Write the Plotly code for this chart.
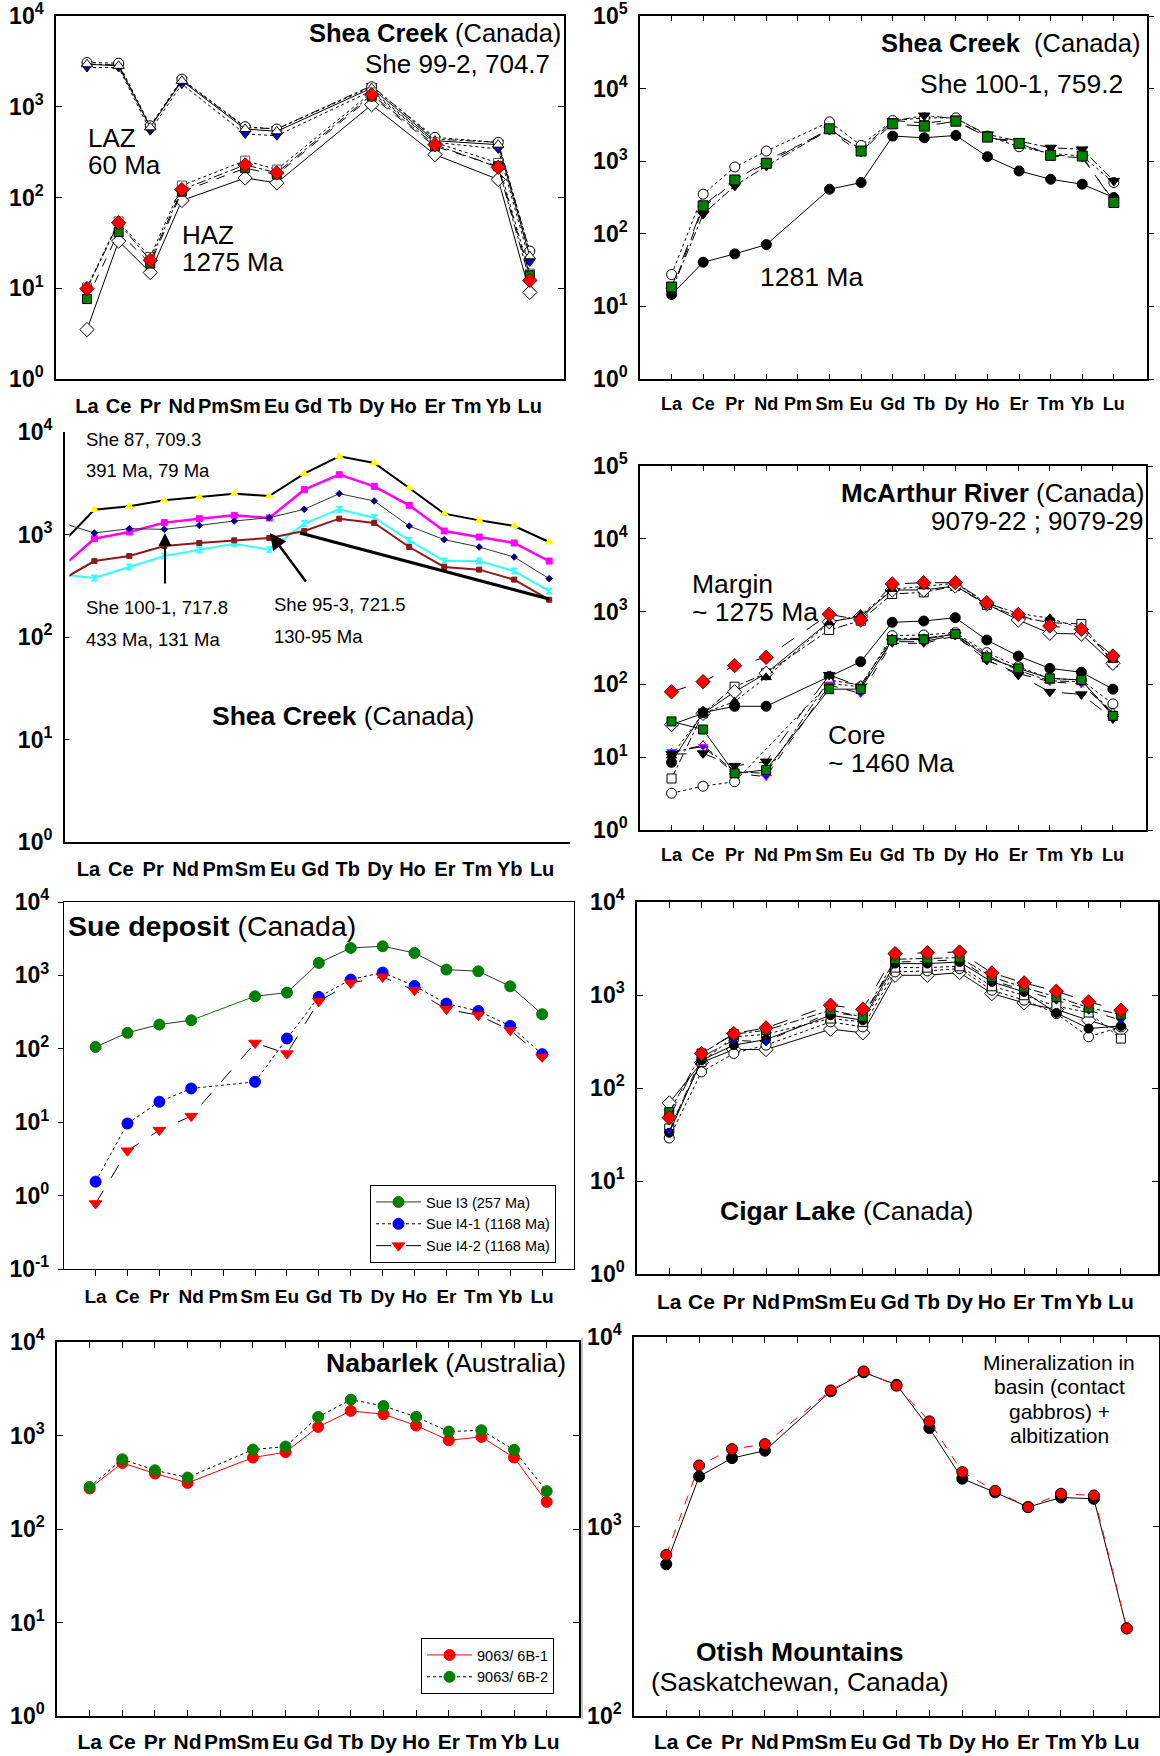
import plotly.graph_objects as go

W, H = 1160, 1756
FONT = "Liberation Sans, Arial, sans-serif"
N = None

REE = ["La", "Ce", "Pr", "Nd", "Pm", "Sm", "Eu", "Gd", "Tb", "Dy", "Ho", "Er", "Tm", "Yb", "Lu"]
X = list(range(len(REE)))

# ---------------- Panel 1: Shea Creek She 99-2 ----------------
laz_tri_open = [2942, 2823, 593, 1931, N, 569, 536, N, N, 1603, N, 423, N, 382, 22.5]
laz_circ_open = [3070, 3020, 618, 2014, N, 603, 569, N, N, 1660, N, 460, N, 405, 25.7]
laz_tri_down = [2942, 2890, 603, 1980, N, 593, 569, N, N, 1702, N, 441, N, 405, 25]
laz_blue = [2706, 2706, 545, 1775, N, 501, 480, N, N, 1500, N, 405, N, 343, 19.5]
haz_dia_open = [3.5, 33.1, 14.9, 92.7, N, 164, 145, N, N, 1052, N, 297, N, 158, 9.0]
haz_sq_open = [10.2, 54.5, 22.1, 135.5, N, 255, 203, N, N, 1438, N, 405, N, 240, 14.5]
haz_green = [7.6, 41.6, 18.7, 116, N, 210, 179, N, N, 1300, N, 366, N, 221, 13.9]
haz_red = [9.9, 52.7, 20.3, 122, N, 229, 187, N, N, 1355, N, 382, N, 215, 12.2]

# ---------------- Panel 2: Shea Creek She 100-1 ----------------
s100_black = [14.6, 40.6, 52.9, 71, N, 411, 508, 2217, 2103, 2264, 1154, 734, 564, 482, 316]
s100_open = [27.5, 351, 832, 1380, N, 3483, 1650, 3633, 3950, 3950, 2217, 1582, 1282, 1178, 508]
s100_tri = [16.6, 187, 457, 859, N, 2735, 1455, 3557, 4254, 3870, 2334, 1892, 1534, 1455, 535]
s100_blue = [16.6, 230, 535, 1028, N, 2596, 1309, 3633, 3375, 3674, 2103, 1892, 1178, 1117, 284]
s100_green = [18.5, 243, 552, 935, N, 2792, 1380, 3272, 3041, 3557, 2148, 1758, 1203, 1178, 270]

# ---------------- Panel 3: Shea Creek inset (own sample positions) ----------------
inset_pos = list(range(15))
she87_a = [773, 1746, 1883, 2154, 2323, 2500, 2375, 3918, 5790, 4985, 2843, 1597, 1374, 1210, 845]
she87_b = [457, 910, 1057, 1306, 1427, 1538, 1449, 2737, 3834, 2950, 1927, 1082, 945, 826, 551]
she100_a = [1324, 1035, 1140, 1123, 1227, 1354, 1459, 1761, 2502, 2123, 1211, 891, 755, 603, 371]
she95_a = [409, 376, 482, 617, 711, 814, 711, 1276, 1761, 1459, 877, 551, 551, 440, 281]
she95_b = [349, 551, 617, 773, 826, 877, 925, 1082, 1427, 1294, 755, 482, 454, 363, 231]

# ---------------- Panel 4: McArthur River ----------------
mc_sq_open = [5.1, 40, 93, 142, N, 559, 750, 1745, 1841, 2249, 1232, 851, 705, 676, 201]
mc_dia_open = [28, 40, 79, 142, N, 727, 851, 1981, 1981, 2249, 1271, 767, 503, 492, 195]
mc_tri_black = [10.5, 40, 58, 125, N, 705, 898, 2024, 2202, 2445, 1299, 946, 809, 589, 216]
mc_red = [79, 109, 181, 235, N, 917, 767, 2393, 2495, 2495, 1327, 917, 634, 570, 246]
mc_black = [8.5, 41, 50, 50, N, 128, 205, 712, 743, 825, 407, 245, 166, 147, 86]
mc_circ_open = [3.2, 4.0, 4.6, N, N, 103, 93, 467, 477, 514, 273, 175, 121, 115, 54]
mc_tri_down = [11, 11.3, 7.6, 8.7, N, 135, 93, 386, 386, 477, 216, 135, 79, 73, 34]
mc_tri_open = [11.5, 14.7, 6.3, 6.0, N, 115, 98, 429, 429, 492, 254, 155, 112, 109, 41]
mc_blue = [11.9, 14, 6, 5.4, N, 98, 75, 366, 366, 462, 216, 141, 109, 101, 40]
mc_green = [31, 24, 6.0, 6.7, N, 86, 86, 407, 416, 492, 235, 166, 121, 115, 37]

# ---------------- Panel 5: Sue deposit ----------------
sue_i3 = [106, 165, 214, 245, N, 520, 583, 1479, 2367, 2493, 2024, 1200, 1138, 711, 296]
sue_i4_1 = [1.55, 9.6, 19.0, 28.8, N, 35.5, 138, 509, 877, 1092, 719, 413, 328, 205, 84.6]
sue_i4_2 = [0.78, 4.08, 7.8, 12.1, N, 120, 86, 445, 789, 953, 628, 346, 287, 179, 77.6]

# ---------------- Panel 6: Cigar Lake ----------------
cig_dia_open = [69, 188, 259, 259, N, 429, 392, 1630, 1630, 1741, 1036, 822, 697, 536, 418]
cig_circ_open = [29, 149, 235, 289, N, 514, 454, 1770, 1815, 1923, 1125, 879, 631, 355, 454]
cig_sq_open = [36.7, 191, 354, 379, N, 558, 514, 1971, 1971, 2036, 1242, 994, 757, 648, 340]
cig_black = [33, 199, 289, 332, N, 606, 536, 2176, 2176, 2265, 1383, 1080, 642, 436, 465]
cig_blue = [34, 216, 326, 313, N, 658, 582, 2265, 2305, 2400, 1439, 1125, 879, 686, 536]
cig_green = [55, 235, 379, 418, N, 686, 582, 2422, 2460, 2523, 1564, 1202, 954, 732, 616]
cig_red = [48, 235, 385, 443, N, 776, 703, 2786, 2856, 2902, 1727, 1349, 1097, 843, 686]

# ---------------- Panel 7: Nabarlek ----------------
nab_6b1 = [271, 509, 392, 311, N, 581, 663, 1236, 1833, 1688, 1277, 889, 966, 581, 195]
nab_6b2 = [282, 557, 425, 355, N, 707, 762, 1580, 2420, 2070, 1580, 1102, 1137, 702, 254]

# ---------------- Panel 8: Otish Mountains ----------------
otish_a = [632, 1837, 2296, 2512, N, 5166, 6506, 5598, 3304, 1787, 1514, 1266, 1423, 1400, 290]
otish_b = [708, 2100, 2561, 2721, N, 5226, 6585, 5534, 3589, 1937, 1543, 1266, 1489, 1459, 290]


def fx(p):
    return p / W


def fy(p):
    return 1 - p / H


traces = []


def series(ax, y, symbol, fill, dash="solid", size=10, lw=1.0, lcolor="black",
           mline="black", connect=True, x=None, name="", legend=None, mlw=1):
    traces.append(go.Scatter(
        x=x if x is not None else X, y=y, mode="lines+markers",
        xaxis="x" + ax, yaxis="y" + ax,
        line=dict(color=lcolor, width=lw, dash=dash),
        marker=dict(symbol=symbol, size=size, color=fill, line=dict(color=mline, width=mlw)),
        connectgaps=connect, name=name, showlegend=legend is not None,
        legend=legend if legend else "legend", hoverinfo="skip"))


def gap_segment(ax, y, i0, i1, color, dash="solid", lw=1.0):
    traces.append(go.Scatter(
        x=[X[i0], X[i1]], y=[y[i0], y[i1]], mode="lines", xaxis="x" + ax, yaxis="y" + ax,
        line=dict(color=color, width=lw, dash=dash), showlegend=False, hoverinfo="skip"))


# Panel 1
series("", laz_blue, "triangle-down", "#0000ff", "dot", size=9)
series("", laz_tri_down, "triangle-down", "black", "dashdot", size=9)
series("", laz_circ_open, "circle", "white", "dot", size=10)
series("", laz_tri_open, "triangle-up", "white", "solid", size=10)
series("", haz_dia_open, "diamond", "white", "solid", size=11)
series("", haz_sq_open, "square", "white", "dot", size=9, mline="#555555")
series("", haz_green, "square", "#008000", "dash", size=9)
series("", haz_red, "diamond", "#ff0000", "dashdot", size=11, mline="#660000")

# Panel 2
series("2", s100_black, "circle", "black", "solid", size=10)
series("2", s100_open, "circle", "white", "dot", size=10)
series("2", s100_tri, "triangle-down", "black", "dashdot", size=10)
series("2", s100_blue, "triangle-down", "#0000ff", "dash", size=8)
series("2", s100_green, "square", "#008000", "longdash", size=10)

# Panel 3 (base axes need a trace to exist)
traces.append(go.Scatter(x=[N], y=[N], xaxis="x3", yaxis="y3", showlegend=False, hoverinfo="skip"))
series("9", she87_a, "triangle-up", "#ffff00", "solid", size=7, lw=2, lcolor="black", mline="#ffff00", x=inset_pos)
series("9", she87_b, "square", "#ff00ff", "solid", size=6, lw=2.5, lcolor="#ff00ff", mline="#ff00ff", x=inset_pos)
series("9", she100_a, "diamond", "#000080", "solid", size=5, lw=1, lcolor="#333333", mline="#000080", x=inset_pos)
series("9", she95_a, "hourglass", "#33ffff", "solid", size=6, lw=2, lcolor="#33ffff", mline="#33ffff", x=inset_pos)
series("9", she95_b, "square", "#8b1a1a", "solid", size=5, lw=2, lcolor="#8b1a1a", mline="#8b1a1a", x=inset_pos)

# Panel 4
series("4", mc_sq_open, "square", "white", "dashdot", size=9)
series("4", mc_dia_open, "diamond", "white", "solid", size=11)
series("4", mc_tri_black, "triangle-up", "black", "dot", size=9)
series("4", mc_red, "diamond", "#ff0000", "longdash", size=11, mline="#660000")
series("4", mc_black, "circle", "black", "solid", size=10)
series("4", mc_circ_open, "circle", "white", "dot", size=10)
series("4", mc_tri_open, "triangle-up", "white", "dashdot", size=9)
series("4", mc_blue, "triangle-down", "#0000ff", "dash", size=8, mline="#ff00ff")
series("4", mc_tri_down, "triangle-down", "black", "longdash", size=10)
series("4", mc_green, "square", "#008000", "solid", size=9)

# Panel 5
series("5", sue_i3, "circle", "#008000", "solid", size=11, lcolor="#333333", mline="#008000",
       connect=False, name="Sue I3 (257 Ma)", legend="legend")
gap_segment("5", sue_i3, 3, 5, "#008000")
series("5", sue_i4_1, "circle", "#0000ff", "dot", size=11, mline="#0000ff",
       connect=False, name="Sue I4-1 (1168 Ma)", legend="legend")
gap_segment("5", sue_i4_1, 3, 5, "#0000ff", "dot")
series("5", sue_i4_2, "triangle-down", "#ff0000", "longdash", size=11, mline="#ff0000",
       connect=True, name="Sue I4-2 (1168 Ma)", legend="legend")

# Panel 6
series("6", cig_dia_open, "diamond", "white", "solid", size=11)
series("6", cig_circ_open, "circle", "white", "dot", size=10)
series("6", cig_sq_open, "square", "white", "dot", size=9)
series("6", cig_black, "circle", "black", "solid", size=9)
series("6", cig_blue, "triangle-down", "#0000ff", "dash", size=8)
series("6", cig_green, "square", "#008000", "dashdot", size=9)
series("6", cig_red, "diamond", "#ff0000", "longdash", size=11, mline="#660000")

# Panel 7
series("7", nab_6b1, "circle", "#ff0000", "solid", size=11, lcolor="#ff0000", mline="#ff0000",
       name="9063/ 6B-1", legend="legend2")
series("7", nab_6b2, "circle", "#008000", "dot", size=11, lcolor="black", mline="#008000",
       name="9063/ 6B-2", legend="legend2")

# Panel 8
series("8", otish_a, "circle", "black", "solid", size=11, lcolor="black")
series("8", otish_b, "circle", "#ff0000", "dash", size=11, lcolor="#ff0000", mline="black")


def xtick_text():
    return ["<b>%s</b>" % r for r in REE]


def ylog_ticks(lo, hi):
    vals = [10.0 ** k for k in range(lo, hi + 1)]
    txt = ["<b>10<sup>%d</sup></b>" % k for k in range(lo, hi + 1)]
    return vals, txt


layout = dict(
    width=W, height=H, margin=dict(l=0, r=0, t=0, b=0, autoexpand=False),
    paper_bgcolor="white", plot_bgcolor="white",
    font=dict(family=FONT, color="black"),
    annotations=[], shapes=[],
)


def add_axes(n, left, right, top, bottom, ylo, yhi, xr, xsize=20, ysize=23,
             frame=True, xticks="", xmirror=False, yticks="inside", ymirror="ticks",
             lw=1.5, xlen=6, ylen=6, xstand=8, ystand=6, right_out=None):
    xk = "xaxis" if n == "" else "xaxis" + n
    yk = "yaxis" if n == "" else "yaxis" + n
    yv, yt = ylog_ticks(ylo, yhi)
    layout[xk] = dict(
        domain=[fx(left), fx(right)], range=xr, anchor="y" + n,
        tickmode="array", tickvals=X, ticktext=xtick_text(), tickangle=0,
        tickfont=dict(family=FONT, size=xsize, color="black"),
        showline=True, linecolor="black", linewidth=lw,
        mirror=(True if frame else False) if not xmirror else "ticks",
        ticks=xticks, ticklen=xlen, tickcolor="black", tickwidth=1, automargin=False,
        ticklabeloverflow="allow",
        showgrid=False, zeroline=False, ticklabelstandoff=xstand, fixedrange=True)
    layout[yk] = dict(
        domain=[fy(bottom), fy(top)], type="log", range=[ylo, yhi], anchor="x" + n,
        tickmode="array", tickvals=yv, ticktext=yt, tickangle=0,
        tickfont=dict(family=FONT, size=ysize, color="black"),
        showline=True, linecolor="black", linewidth=lw,
        mirror=(ymirror if frame else False), automargin=False,
        ticklabeloverflow="allow",
        ticks=yticks, ticklen=ylen, tickcolor="black", tickwidth=1,
        showgrid=False, zeroline=False, ticklabelstandoff=ystand, fixedrange=True)
    if right_out:
        # outward ticks on the right frame
        layout["yaxis" + right_out] = dict(
            overlaying="y" + n, side="right", anchor="x" + n, type="log", range=[ylo, yhi],
            tickmode="array", tickvals=yv, showticklabels=False, ticks="outside", ticklen=6,
            tickcolor="black", showline=False, showgrid=False, zeroline=False,
            automargin=False, fixedrange=True)
        traces.append(go.Scatter(x=[N], y=[N], xaxis="x" + n, yaxis="y" + right_out,
                                 showlegend=False, hoverinfo="skip"))


add_axes("", 56, 564, 16, 379, 0, 4, [-0.98, 15.08], xsize=20)
add_axes("2", 640, 1147, 16, 379, 0, 5, [-1.0, 15.05], xsize=18, ymirror=True,
         xticks="inside", xmirror=True, xlen=5, right_out="10")
add_axes("3", 65, 570, 432, 842, 0, 4, [-0.72, 14.86], xsize=20, frame=False,
         xticks="inside", xlen=8, ylen=5, lw=2)
add_axes("4", 640, 1146, 466, 830, 0, 5, [-1.0, 15.05], xsize=18, ymirror=True,
         xticks="inside", xmirror=True, xlen=5, right_out="11")
add_axes("5", 64, 574, 902, 1269, -1, 4, [-0.99, 15.0], xsize=19, xticks="outside",
         yticks="outside", ymirror=True, lw=1.2, xlen=6, ylen=5, xstand=4, ystand=4)
add_axes("6", 637, 1158, 902, 1274, 0, 4, [-1.0, 15.15], xsize=21, xticks="inside", xmirror=True)
add_axes("7", 57, 579, 1342, 1716, 0, 4, [-1.0, 14.99], xsize=21, xticks="inside", xmirror=True,
         xstand=6)
add_axes("8", 634, 1159, 1337, 1716, 2, 4, [-0.98, 14.98], xsize=21, xticks="inside", xmirror=True,
         xstand=6)

# overlay axes for the pasted inset of panel 3
layout["xaxis9"] = dict(domain=[fx(69.5), fx(560)], range=[0.29, 14.31], anchor="y9",
                        visible=False, fixedrange=True, automargin=False)
layout["yaxis9"] = dict(domain=[fy(842), fy(432)], type="log", range=[0, 4], anchor="x9",
                        visible=False, fixedrange=True, automargin=False)


def note(x, y, text, size, anchor="left"):
    layout["annotations"].append(dict(
        xref="paper", yref="paper", x=fx(x), y=fy(y), text=text, showarrow=False,
        xanchor=anchor, yanchor="middle", font=dict(family=FONT, size=size, color="black")))


# Panel 1 texts
note(563, 33, "<b>Shea Creek</b> (Canada)", 25.5, "right")
note(552, 64, "She 99-2, 704.7", 26, "right")
note(86, 138, "LAZ", 26)
note(86, 165, "60 Ma", 26)
note(180, 235, "HAZ", 26)
note(180, 262, "1275 Ma", 26)

# Panel 2 texts
note(1142, 43, "<b>Shea Creek</b>  (Canada)", 25.5, "right")
note(1125, 84, "She 100-1, 759.2", 26.5, "right")
note(758, 277, "1281 Ma", 26.5)

# Panel 3 texts
note(84, 439, "She 87, 709.3", 18.5)
note(84, 471, "391 Ma, 79 Ma", 18.5)
note(84, 607, "She 100-1, 717.8", 18.5)
note(84, 639, "433 Ma, 131 Ma", 18.5)
note(272, 604, "She 95-3, 721.5", 18.5)
note(272, 637, "130-95 Ma", 18.5)
note(343, 716, "<b>Shea Creek</b> (Canada)", 26.5, "center")

# Panel 4 texts
note(1146, 493, "<b>McArthur River</b> (Canada)", 26, "right")
note(1146, 521, "9079-22 ; 9079-29", 26, "right")
note(690, 584, "Margin", 26.5)
note(690, 612, "~ 1275 Ma", 26.5)
note(826, 735, "Core", 26.5)
note(826, 763, "~ 1460 Ma", 26.5)

# Panel 5 texts
note(66, 926, "<b>Sue deposit</b> (Canada)", 28.5)

# Panel 6 texts
note(718, 1211, "<b>Cigar Lake</b> (Canada)", 26.5)

# Panel 7 texts
note(568, 1363, "<b>Nabarlek</b> (Australia)", 26.5, "right")

# Panel 8 texts
for i, line in enumerate(["Mineralization in", "basin (contact", "gabbros) +", "albitization"]):
    note(1059, 1362 + 24.5 * i, line, 21, "center")
note(800, 1652, "<b>Otish Mountains</b>", 26.5, "center")
note(800, 1682, "(Saskatchewan, Canada)", 26.5, "center")

# Panel 3 arrows and pointer line
layout["annotations"].append(dict(xref="paper", yref="paper", x=fx(165), y=fy(533), ax=0, ay=52,
                                  text="", showarrow=True, arrowhead=2, arrowsize=1.3,
                                  arrowwidth=2, arrowcolor="black"))
layout["annotations"].append(dict(xref="paper", yref="paper", x=fx(270), y=fy(533), ax=37, ay=50,
                                  text="", showarrow=True, arrowhead=2, arrowsize=1.3,
                                  arrowwidth=2.5, arrowcolor="black"))
layout["shapes"].append(dict(type="line", xref="paper", yref="paper", x0=fx(300), y0=fy(533),
                             x1=fx(549), y1=fy(599), line=dict(color="black", width=3)))
# stray axis line left of panel 8
layout["shapes"].append(dict(type="line", xref="paper", yref="paper", x0=fx(582), y0=fy(1338),
                             x1=fx(582), y1=fy(1719), line=dict(color="#888888", width=1)))

layout["legend"] = dict(x=fx(370), y=fy(1185), xanchor="left", yanchor="top",
                        bordercolor="black", borderwidth=1, bgcolor="white", itemwidth=45,
                        font=dict(family=FONT, size=14.5, color="black"), tracegroupgap=0)
layout["legend2"] = dict(x=fx(421), y=fy(1638), xanchor="left", yanchor="top",
                         bordercolor="black", borderwidth=1, bgcolor="white", itemwidth=45,
                         font=dict(family=FONT, size=14.5, color="black"), tracegroupgap=0)

fig = go.Figure(data=traces, layout=layout)
# remove the default 8px page margin so the figure fills the window exactly
fig.write_html("out.html", config={"displayModeBar": False},
               post_script="document.body.style.margin='0px';")
